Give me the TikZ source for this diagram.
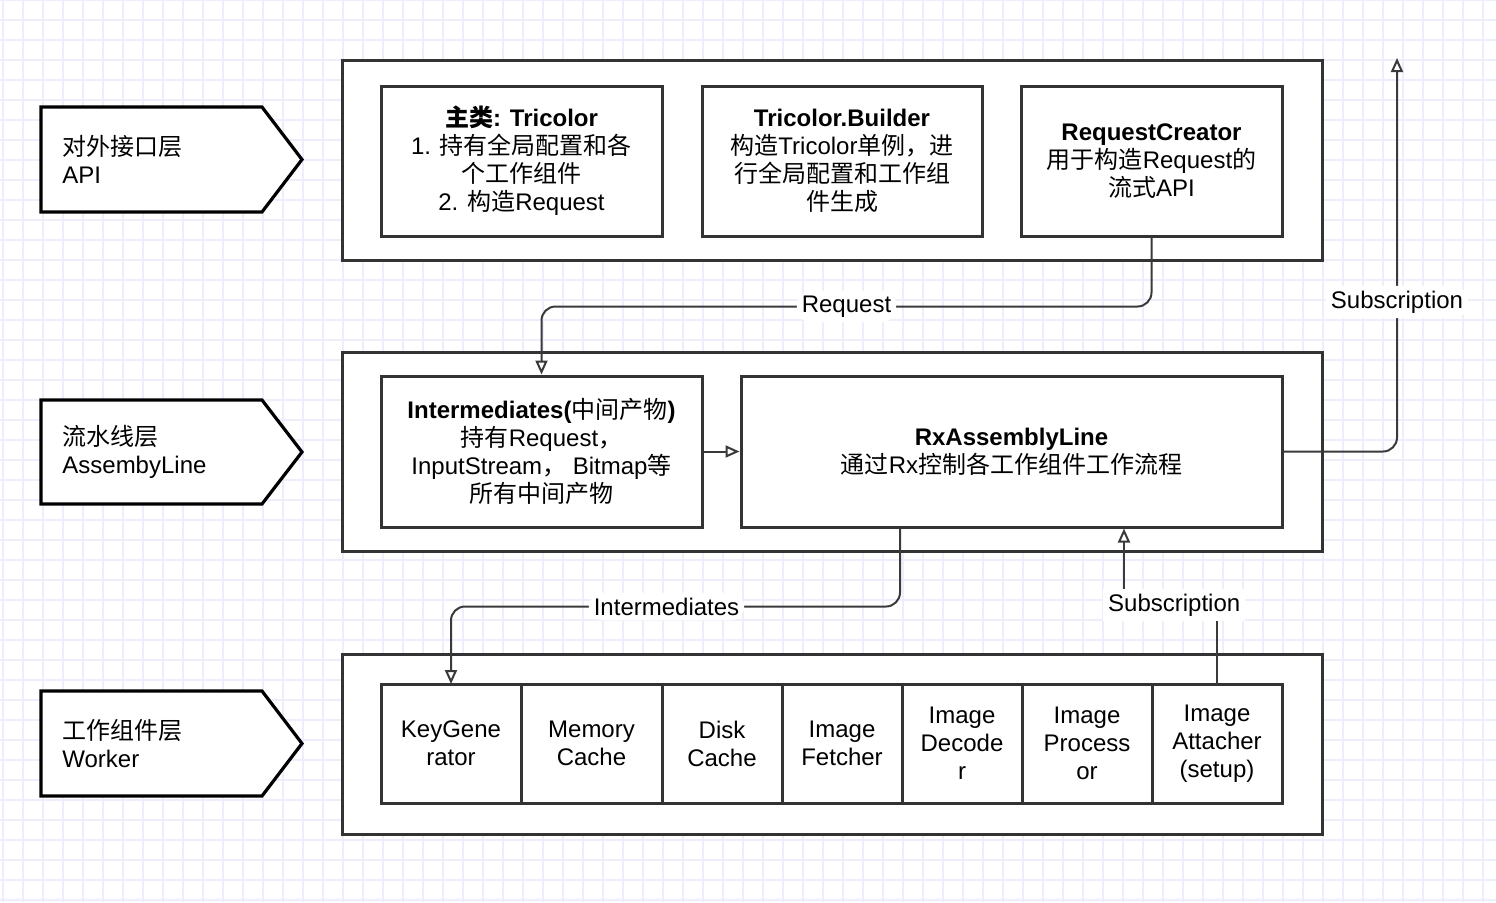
\documentclass[tikz,border=0pt]{standalone}
\usepackage{fontspec}
\setmainfont{Liberation Sans}
\newfontfamily\cjk{Noto Sans CJK SC}
\usepackage{tikz}
\usetikzlibrary{arrows.meta,positioning}
\definecolor{gridlav}{HTML}{EDEDFC}
\definecolor{strokegray}{HTML}{333333}
\definecolor{linkgray}{HTML}{3A3A3A}
\newcommand{\zh}[1]{{\cjk #1}}

\begin{document}
\begin{tikzpicture}[
  x=0.5pt, y=-0.5pt,
  every node/.style={font=\fontsize{12}{14}\selectfont},
  gridline/.style={draw=gridlav, line width=0.6pt},
  layertag/.style={draw=black, line width=1.6pt, fill=white},
  tagtext/.style={align=left, anchor=west, inner sep=0pt},
  layer/.style={draw=strokegray, line width=1.5pt, fill=white, inner sep=0pt},
  box/.style={draw=strokegray, line width=1.5pt, fill=white, align=center, minimum height=75pt},
  cell/.style={box, minimum height=59.5pt, outer sep=0pt},
  lbl/.style={fill=white, inner sep=2.5pt},
  arr/.style={-{Triangle[length=7pt, width=6pt, fill=white]}, line width=1pt, draw=linkgray},
]
  \useasboundingbox (0,0) rectangle (1496,902);
  \fill[white] (0,0) rectangle (1496,902);
  \foreach \gx in {3,23,...,1495} \draw[gridline] (\gx,0) -- (\gx,902);
  \foreach \gy in {0,20,...,900} \draw[gridline] (0,\gy) -- (1496,\gy);

  \draw[layertag] (41,107) -- (262,107) -- (302,159.5) -- (262,212) -- (41,212) -- cycle;
  \draw[layertag] (41,400) -- (262,400) -- (302,452) -- (262,504) -- (41,504) -- cycle;
  \draw[layertag] (41,691) -- (262,691) -- (302,743.5) -- (262,796) -- (41,796) -- cycle;
  \node[tagtext] (apitag) at (62,159.5) {\zh{对外接口层}\\API};
  \node[tagtext] (linetag) at (62,452) {\zh{流水线层}\\AssembyLine};
  \node[tagtext] (workertag) at (62,743.5) {\zh{工作组件层}\\Worker};

  \node[layer, minimum width=490pt, minimum height=100pt] (apilayer) at (832,160) {};
  \node[layer, minimum width=490pt, minimum height=99.5pt] (linelayer) at (832,451.5) {};
  \node[layer, minimum width=490pt, minimum height=90pt] (workerlayer) at (832,744) {};

  \node[box, minimum width=140.5pt] (tricolor) at (521.5,161) {\textbf{\zh{主类}: Tricolor}\\1. \zh{持有全局配置和各}\\\zh{个工作组件}\\2. \zh{构造}Request};
  \node[box, minimum width=140pt] (builder) at (842,161) {\textbf{Tricolor.Builder}\\\zh{构造}Tricolor\zh{单例，进}\\\zh{行全局配置和工作组}\\\zh{件生成}};
  \node[box, minimum width=130.5pt] (creator) at (1151.5,161) {\textbf{RequestCreator}\\\zh{用于构造}Request\zh{的}\\\zh{流式}API};

  \node[box, minimum width=160.5pt, minimum height=75.5pt] (inter) at (541.5,451.5) {\textbf{Intermediates(}\zh{中间产物}\textbf{)}\\\zh{持有}Request\zh{，}\\InputStream\zh{，} Bitmap\zh{等}\\\zh{所有中间产物}};
  \node[box, minimum width=270.5pt, minimum height=75.5pt] (rx) at (1011.5,451.5) {\textbf{RxAssemblyLine}\\\zh{通过}Rx\zh{控制各工作组件工作流程}};

  \node[cell, minimum width=70pt] (keygen) at (451,743.5) {KeyGene\\rator};
  \node[cell, minimum width=70.5pt, right=0pt of keygen] (memcache) {Memory\\Cache};
  \node[cell, minimum width=60pt, right=0pt of memcache] (diskcache) {Disk\\Cache};
  \node[cell, minimum width=60pt, right=0pt of diskcache] (fetcher) {Image\\Fetcher};
  \node[cell, minimum width=60pt, right=0pt of fetcher] (decoder) {Image\\Decode\\r};
  \node[cell, minimum width=65pt, right=0pt of decoder] (processor) {Image\\Process\\or};
  \node[cell, minimum width=65pt, right=0pt of processor] (attacher) {Image\\Attacher\\(setup)};

  \coordinate (subtop) at (1397,58);
  \draw[arr, rounded corners=7pt] (creator.south) -- ++(0,69) -| node[lbl, pos=0.25] {Request} (inter.north);
  \draw[arr] (inter.east) -- (rx.west);
  \draw[arr, rounded corners=7pt] (rx.east) -| node[lbl, pos=0.69] {Subscription} (subtop);
  \draw[arr, rounded corners=7pt] ([xshift=-55.75pt]rx.south) -- ++(0,78) -| node[lbl, pos=0.26] {Intermediates} (keygen.north);
  \draw[arr] (attacher.north) -- ++(0,-79) -| node[lbl, pos=0.23] {Subscription} ([xshift=56.25pt]rx.south);
\end{tikzpicture}
\end{document}
